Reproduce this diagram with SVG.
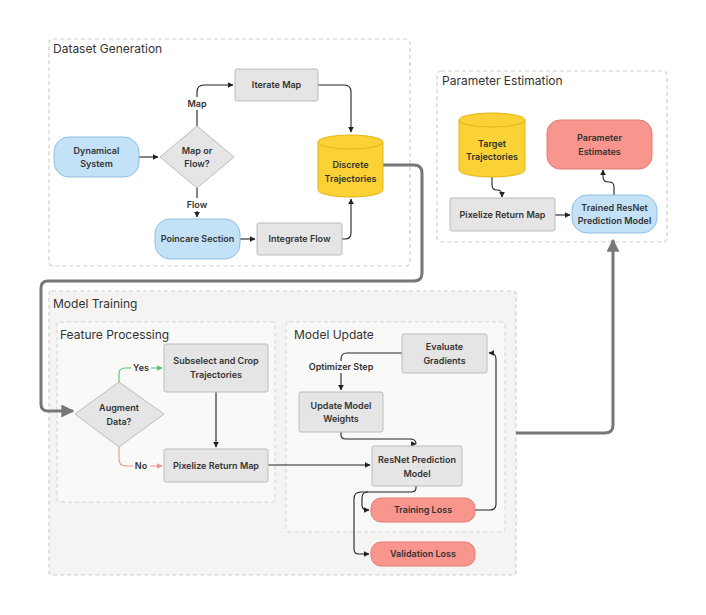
<svg xmlns="http://www.w3.org/2000/svg" width="706" height="615" viewBox="0 0 706 615">
<defs>
<marker id="ah" viewBox="0 0 10 10" refX="9" refY="5" markerWidth="6" markerHeight="6" markerUnits="userSpaceOnUse" orient="auto"><path d="M0,0 L10,5 L0,10 z" fill="#222"/></marker>
<marker id="ahg" viewBox="0 0 10 10" refX="9" refY="5" markerWidth="6" markerHeight="6" markerUnits="userSpaceOnUse" orient="auto"><path d="M0,0 L10,5 L0,10 z" fill="#4cc767"/></marker>
<marker id="ahr" viewBox="0 0 10 10" refX="9" refY="5" markerWidth="6" markerHeight="6" markerUnits="userSpaceOnUse" orient="auto"><path d="M0,0 L10,5 L0,10 z" fill="#f4948c"/></marker>
<marker id="big" viewBox="0 0 10 10" refX="9" refY="5" markerWidth="13" markerHeight="13" markerUnits="userSpaceOnUse" orient="auto"><path d="M0,0 L10,5 L0,10 z" fill="#777"/></marker>
</defs>
<style>
.grp{fill:none;stroke:#cfcfcf;stroke-width:1.2;stroke-dasharray:4 3}
.title{font-family:Inter,"Liberation Sans",sans-serif;font-size:12px;fill:#333}
.t{font-family:Inter,"Liberation Sans",sans-serif;font-size:9px;font-weight:600;fill:#333;text-anchor:middle}
.gray{fill:#e5e5e5;stroke:#bcbcbc;stroke-width:1}
.blue{fill:#c3e2f8;stroke:#8ebfe2;stroke-width:1}
.red{fill:#f8958d;stroke:#e37c74;stroke-width:1}
.yel{fill:#fbd235;stroke:#e2b519;stroke-width:1}
.c{fill:none;stroke:#222;stroke-width:1.1}
.thick{fill:none;stroke:#777;stroke-width:3}
.lbl{fill:#fff}
</style>
<rect width="706" height="615" fill="#fff"/>
<!-- groups -->
<g id="dataset-generation">
<rect class="grp" x="49" y="39" width="361" height="227" rx="4"/>
<text class="title" x="53" y="53">Dataset Generation</text>
</g>
<g id="parameter-estimation">
<rect class="grp" x="437" y="71" width="230" height="171" rx="4"/>
<text class="title" x="442" y="85">Parameter Estimation</text>
</g>
<g id="model-training">
<rect x="49" y="291" width="467" height="284" rx="3" fill="#f5f4f2" stroke="#cfcfcf" stroke-width="1.2" stroke-dasharray="4 3"/>
<text class="title" x="53" y="308">Model Training</text>
</g>
<g id="feature-processing">
<rect x="57" y="322" width="218" height="180" rx="3" fill="#f9f9f8" stroke="#d6d6d6" stroke-width="1.1" stroke-dasharray="4 3"/>
<text class="title" x="60" y="339">Feature Processing</text>
</g>
<g id="model-update">
<rect x="286" y="322" width="219" height="210" rx="3" fill="#f9f9f8" stroke="#d6d6d6" stroke-width="1.1" stroke-dasharray="4 3"/>
<text class="title" x="294" y="339">Model Update</text>
</g>
<!-- connectors -->
<g id="connectors">
<path class="c" d="M197,126 V92 Q197,85 204,85 H233" marker-end="url(#ah)"/>
<rect class="lbl" x="184" y="97" width="26" height="13"/>
<text class="t" x="197" y="107">Map</text>
<path class="c" d="M197,188 V217" marker-end="url(#ah)"/>
<rect class="lbl" x="184" y="198" width="26" height="13"/>
<text class="t" x="197" y="208">Flow</text>
<path class="c" d="M139,157 H158" marker-end="url(#ah)"/>
<path class="c" d="M318,85 H344 Q351,85 351,92 V132" marker-end="url(#ah)"/>
<path class="c" d="M240,239 H255" marker-end="url(#ah)"/>
<path class="c" d="M342,239 H345 Q351,239 351,233 V199" marker-end="url(#ah)"/>
<path class="thick" d="M383,165 H414 Q422,165 422,173 V273 Q422,281 414,281 H48 Q41,281 41,288 V404 Q41,411 48,411 H73" marker-end="url(#big)"/>
<path class="c" d="M492,177 V185 Q492,190 497,190 Q502,190 502,195 V197" marker-end="url(#ah)"/>
<path class="c" d="M555,215 H570" marker-end="url(#ah)"/>
<path class="c" d="M614,195 V187 Q614,182 609,182 Q603,182 603,177 V170" marker-end="url(#ah)"/>
<path class="thick" d="M516,433 H605 Q613,433 613,425 V240" marker-end="url(#big)"/>
<path d="M119,382 V374 Q119,368 125,368 H162" fill="none" stroke="#4cc767" stroke-width="1.1" marker-end="url(#ahg)"/>
<rect x="131" y="361" width="20" height="13" fill="#f9f9f8"/>
<text class="t" x="141" y="371">Yes</text>
<path d="M119,447 V459 Q119,466 126,466 H162" fill="none" stroke="#f4948c" stroke-width="1.1" marker-end="url(#ahr)"/>
<rect x="133" y="459" width="17" height="13" fill="#f9f9f8"/>
<text class="t" x="141" y="469">No</text>
<path class="c" d="M216,392 V447" marker-end="url(#ah)"/>
<path class="c" d="M268,465 H370" marker-end="url(#ah)"/>
<path class="c" d="M402,353 H347 Q341,353 341,359 V390" marker-end="url(#ah)"/>
<rect x="306" y="361" width="70" height="12" fill="#f9f9f8"/>
<text class="t" x="341" y="370">Optimizer Step</text>
<path class="c" d="M341,432 V435 Q341,439 346,439 H410 Q416,439 416,444 V444" marker-end="url(#ah)"/>
<path class="c" d="M416,486 V488 Q416,492 411,492 H368 Q362,492 362,498 V505 Q362,510 367,510 H369" marker-end="url(#ah)"/>
<path class="c" d="M368,492 H361 Q354,492 354,499 V549 Q354,554 359,554 H369" marker-end="url(#ah)"/>
<path class="c" d="M475,510 H490 Q496,510 496,504 V359 Q496,353 490,353 H489" marker-end="url(#ah)"/>
</g>
<!-- nodes -->
<g id="dynamical-system">
<rect class="blue" x="54" y="137" width="85" height="40" rx="15"/>
<text class="t" x="96.5" y="154">Dynamical</text>
<text class="t" x="96.5" y="167">System</text>
</g>
<g id="map-or-flow">
<polygon class="gray" points="197,126 234,157 197,188 160,157"/>
<text class="t" x="197" y="154">Map or</text>
<text class="t" x="197" y="167">Flow?</text>
</g>
<g id="iterate-map">
<rect class="gray" x="235" y="69" width="83" height="32" rx="2"/>
<text class="t" x="276.5" y="88">Iterate Map</text>
</g>
<g id="poincare-section">
<rect class="blue" x="155" y="219" width="85" height="40" rx="15"/>
<text class="t" x="197.5" y="242">Poincare Section</text>
</g>
<g id="integrate-flow">
<rect class="gray" x="257" y="223" width="85" height="32" rx="2"/>
<text class="t" x="299.5" y="242">Integrate Flow</text>
</g>
<g id="discrete-trajectories">
<path class="yel" d="M318,142 V190 A32.5,7 0 0 0 383,190 V142"/>
<ellipse class="yel" cx="350.5" cy="142" rx="32.5" ry="7"/>
<text class="t" x="350.5" y="168">Discrete</text>
<text class="t" x="350.5" y="182">Trajectories</text>
</g>
<g id="target-trajectories">
<path class="yel" d="M459,120 V170 A33,7 0 0 0 525,170 V120"/>
<ellipse class="yel" cx="492" cy="120" rx="33" ry="7"/>
<text class="t" x="492" y="147">Target</text>
<text class="t" x="492" y="160">Trajectories</text>
</g>
<g id="parameter-estimates">
<rect class="red" x="547" y="120" width="105" height="49" rx="13"/>
<text class="t" x="599.5" y="141">Parameter</text>
<text class="t" x="599.5" y="155">Estimates</text>
</g>
<g id="pixelize-pe">
<rect class="gray" x="450" y="198" width="105" height="33" rx="2"/>
<text class="t" x="502.5" y="218">Pixelize Return Map</text>
</g>
<g id="trained-resnet">
<rect class="blue" x="572" y="195" width="85" height="38" rx="15"/>
<text class="t" x="614.5" y="211">Trained ResNet</text>
<text class="t" x="614.5" y="224">Prediction Model</text>
</g>
<g id="augment-data">
<polygon class="gray" points="119,382 164,414 119,447 75,414"/>
<text class="t" x="119" y="411">Augment</text>
<text class="t" x="119" y="425">Data?</text>
</g>
<g id="subselect-crop">
<rect class="gray" x="164" y="344" width="104" height="48" rx="2"/>
<text class="t" x="216" y="364">Subselect and Crop</text>
<text class="t" x="216" y="378">Trajectories</text>
</g>
<g id="pixelize-fp">
<rect class="gray" x="164" y="449" width="104" height="33" rx="2"/>
<text class="t" x="216" y="469">Pixelize Return Map</text>
</g>
<g id="evaluate-gradients">
<rect class="gray" x="402" y="334" width="85" height="39" rx="2"/>
<text class="t" x="444.5" y="350">Evaluate</text>
<text class="t" x="444.5" y="364">Gradients</text>
</g>
<g id="update-weights">
<rect class="gray" x="299" y="392" width="84" height="40" rx="2"/>
<text class="t" x="341" y="409">Update Model</text>
<text class="t" x="341" y="422">Weights</text>
</g>
<g id="resnet-model">
<rect class="gray" x="372" y="446" width="90" height="40" rx="2"/>
<text class="t" x="417" y="463">ResNet Prediction</text>
<text class="t" x="417" y="477">Model</text>
</g>
<g id="training-loss">
<rect class="red" x="371" y="498" width="104" height="24" rx="10"/>
<text class="t" x="423" y="513">Training Loss</text>
</g>
<g id="validation-loss">
<rect class="red" x="371" y="542" width="104" height="24" rx="10"/>
<text class="t" x="423" y="557">Validation Loss</text>
</g>
</svg>
